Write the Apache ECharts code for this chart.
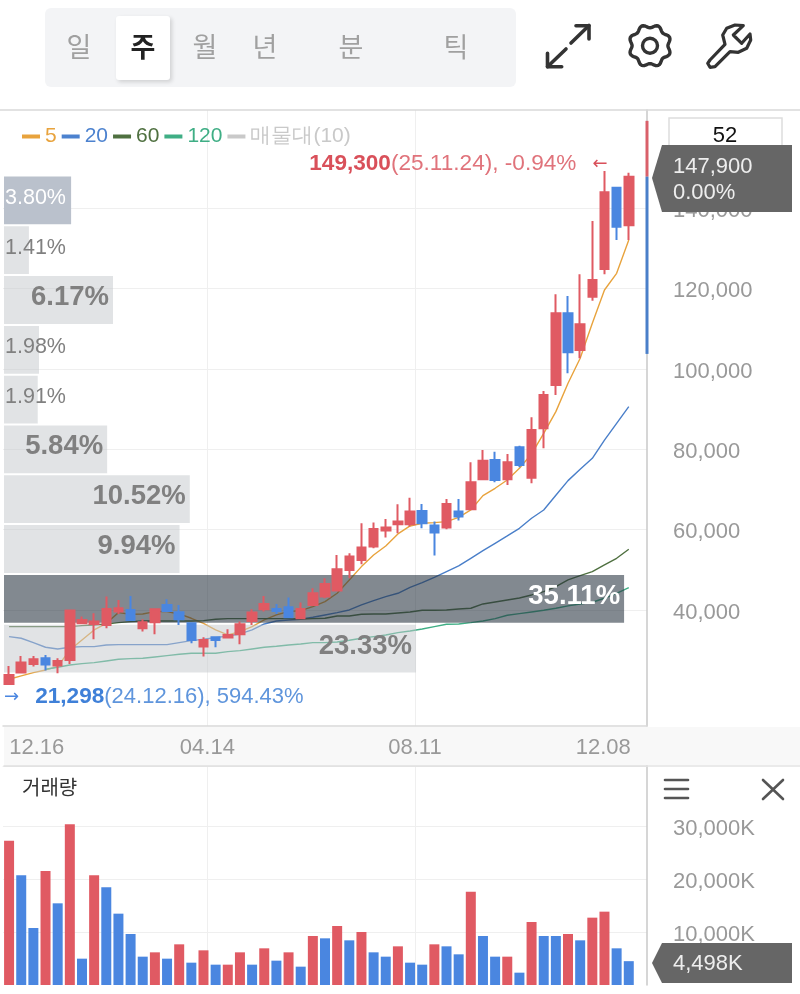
<!DOCTYPE html>
<html><head><meta charset="utf-8">
<style>html,body{margin:0;padding:0;background:#fff}#c{width:800px;height:994px}</style>
<script src="https://cdn.jsdelivr.net/npm/echarts@6/dist/echarts.min.js"></script>
</head><body><div id="c"></div>
<script>
const categories=['24.12.16','24.12.23','24.12.30','25.01.06','25.01.13','25.01.20','25.01.27','25.02.03','25.02.10','25.02.17','25.02.24','25.03.03','25.03.10','25.03.17','25.03.24','25.03.31','25.04.07','25.04.14','25.04.21','25.04.28','25.05.05','25.05.12','25.05.19','25.05.26','25.06.02','25.06.09','25.06.16','25.06.23','25.06.30','25.07.07','25.07.14','25.07.21','25.07.28','25.08.04','25.08.11','25.08.18','25.08.25','25.09.01','25.09.08','25.09.15','25.09.22','25.09.29','25.10.06','25.10.13','25.10.20','25.10.27','25.11.03','25.11.10','25.11.17','25.11.24','25.12.01','25.12.08',''];
const opens=[21574,24396,26554,27965,26139,27550,36680,36514,36265,39585,40000,35435,36929,41245,39419,36680,30870,33194,33111,33941,37261,40166,40249,40664,37925,41245,43320,44814,49960,52450,55770,59754,61331,61331,64651,60999,60501,64485,65066,72536,77350,72536,80504,72951,85235,96025,113870,104740,118020,124909,145161,135782];
const closes=[23815,26886,27716,26388,27301,39834,37510,37095,40249,40415,37510,36929,40166,39751,37676,32530,32530,32530,33775,36431,39336,41494,39751,38174,40249,44150,46474,50126,53280,55521,60169,60501,61995,64485,61580,59256,66394,63240,71789,77184,72370,76769,76105,84820,93535,113870,104159,111131,122170,143999,135450,147900];
const lows=[21298,24230,25890,24894,24230,26554,36514,32696,35435,39004,37344,34605,33941,39585,36265,31700,28380,30704,32945,31451,36265,39585,39004,37925,37676,41000,42905,44648,47885,51371,55355,58011,59090,60750,60335,53529,60086,62244,64900,72370,71789,71125,75524,71540,80255,93535,98930,102665,117024,123581,132130,132130];
const highs=[26056,28546,28546,28795,27965,40000,38340,39170,43320,42490,43486,37676,40415,42656,41245,36846,33194,33360,35186,37095,40166,43486,41494,43071,41826,45395,47885,53695,54110,61580,61746,62659,66311,67971,66394,61995,67639,67639,76769,79840,79425,78844,80919,87974,94531,118601,118186,123581,136861,149300,145161,148896];
const ma5=[22736,23566,24396,25060,25890,30040,32530,35020,36680,39336,38921,39004,39585,39585,39004,37925,36680,35020,33775,34605,35850,37510,38755,39585,39834,40830,42075,44150,47470,50790,53695,55936,58924,60916,61580,61746,61995,63074,64900,68469,70295,72370,75275,78844,83990,89385,96440,102665,111380,119680,123830,132130];
const ma20=[33360,32945,31866,30704,30289,30704,30870,30870,31285,31368,31368,31368,31368,31368,31866,32364,32696,33111,33526,34024,35020,36514,37261,37510,37676,38174,38755,39336,40000,41245,42324,43320,44150,45644,46806,48134,49545,50956,52865,54774,56600,58426,60335,62825,64900,68552,72204,75026,77765,82300,86480,90630];
const ma60=[35850,35850,35850,35850,35850,35850,36099,36265,36514,36846,37095,37261,37261,37261,37261,37261,37344,37676,37842,37842,37842,37842,37842,37842,37759,37842,37925,38506,38506,38921,39004,39004,39253,39502,39917,39917,40000,40249,40415,41494,41992,42490,42988,43735,44565,45810,47470,48549,49545,51205,52865,55106];
const ma120=[null,null,null,25226,25724,26305,26637,26886,27301,27716,27882,27965,28297,28629,28961,29210,29210,29210,29625,29874,30289,30704,30953,31285,31534,31866,31866,32032,32447,32945,33360,33775,34356,34771,35269,35850,36431,36514,36846,37261,37842,38672,39087,39502,39917,40415,41000,41494,41909,42905,44150,45561];
const volumes=[27236,20694,10756,21512,15411,30318,4969,20694,18430,13461,9624,5347,6164,4969,7674,4214,6542,3837,3837,6164,3837,6919,4592,6164,3460,9246,8806,11133,8429,10001,6164,5347,7296,4214,3837,7674,7296,5787,17612,9246,5347,5347,2327,11888,9246,9246,9624,8429,12706,13838,6919,4498];
const volumeUp=[1,0,0,1,0,1,0,1,0,0,0,0,1,0,1,0,1,0,1,1,0,1,0,1,0,1,0,1,0,1,0,0,1,0,0,1,0,0,1,0,0,1,0,1,0,0,1,0,1,1,0,0];
const profilePct=[3.80,1.41,6.17,1.98,1.91,5.84,10.52,9.94,35.11,23.33];
const priceTicks=[40000,60000,80000,100000,120000,140000];
const volumeTicks=[10000,20000,30000];
const dateLabels=['12.16','04.14','08.11','12.08'];
const dateLabelPos=[2.78,16.82,33.9,49.4];
const dateLinePos=[16.83,33.9];
const tabLabels=['일','주','월','년','분','틱'];
const tabX=[79,143,205,265,351,456];
const legendNames=['5','20','60','120','매물대(10)'];
const legendColors=['#e8a33d','#4c82cf','#4f7040','#3fae85','#c9c9c9'];

const RED='#e05a63',BLUE='#4a86e0',SANS='"Liberation Sans",Arial,sans-serif',KR='"Noto Sans CJK KR",sans-serif';
const candle=opens.map((o,i)=>[o,closes[i],lows[i],highs[i]]);
const grey='#999';
const axisRich={a:{color:grey,fontSize:22,fontFamily:SANS,padding:[5,0,0,0]}};
const bandX={type:'value',min:0,max:53,gridIndex:0,position:'bottom',
  axisLine:{show:true,onZero:false,lineStyle:{color:'#d9d9d9',width:1.5}},axisTick:{show:false,customValues:dateLinePos},
  splitLine:{show:true,lineStyle:{color:'#efefef',width:1}},
  axisLabel:{show:true,customValues:dateLabelPos,color:grey,fontSize:22,fontFamily:SANS,margin:11,hideOverlap:false,showMinLabel:true,showMaxLabel:true,
    formatter:v=>{const i=dateLabelPos.findIndex(p=>Math.abs(p-v)<1e-6);return i>=0?dateLabels[i]:'';}}};
const cat=g=>({type:'category',data:categories,gridIndex:g,boundaryGap:true,show:false});
function gear(cx,cy){const p=[];for(let k=0;k<96;k++){const a=k/96*2*Math.PI;const r=19.6-1.7*Math.cos(8*a);p.push([cx+r*Math.cos(a),cy+r*Math.sin(a)]);}return p;}
const line=(x1,y1,x2,y2,c,w,z)=>({type:'line',shape:{x1,y1,x2,y2},style:{stroke:c,lineWidth:w,lineCap:'round'},z:z||50,silent:true});
const poly=(pts,c,w)=>({type:'polyline',shape:{points:pts},style:{stroke:c,lineWidth:w,fill:null,lineJoin:'round',lineCap:'round'},z:50,silent:true});
const tag=(y0,ym,y1)=>({type:'polygon',shape:{points:[[652,ym],[662,y0],[792,y0],[792,y1],[662,y1]]},style:{fill:'#666666'},z:60,silent:true});
const txt=(x,y,t,o)=>({type:'text',x,y,z:70,silent:true,style:Object.assign({text:t,font:'22px '+SANS,fill:'#eee',textAlign:'left',textVerticalAlign:'middle'},o||{})});

const graphics=[
 {type:'rect',shape:{x:4,y:727,width:796,height:38},style:{fill:'#f8f8f8'},z:-1,silent:true},
 line(0,110,800,110,'#d9d9d9',1.5),
 line(647,766,800,766,'#e3e3e3',1.5),
 line(4,766,647,766,'#dedede',1.5),
 {type:'rect',shape:{x:45,y:8,width:471,height:79,r:6},style:{fill:'#f3f4f6'},z:40,silent:true},
 {type:'rect',shape:{x:116,y:16,width:54,height:64,r:3},style:{fill:'#fff',shadowBlur:4,shadowColor:'rgba(0,0,0,.15)',shadowOffsetX:2,shadowOffsetY:2},z:41,silent:true},
 ...tabLabels.map((t,i)=>txt(tabX[i],47,t,{font:(i===1?'bold ':'')+'27px '+KR,fill:i===1?'#222':'#a0a0a0',textAlign:'center'})),
 line(571,43,589,25.5,'#333',3.6),poly([[576,25.7],[589,25.7],[589,39]],'#333',3.6),
 line(566,49,547.5,66.7,'#333',3.6),poly([[547.5,53.3],[547.5,66.7],[561.7,66.7]],'#333',3.6),
 {type:'polygon',shape:{points:gear(650,45.7)},style:{stroke:'#333',lineWidth:3.4,fill:null,lineJoin:'round'},z:50,silent:true},
 {type:'circle',shape:{cx:650,cy:45.7,r:7.5},style:{stroke:'#333',lineWidth:3.4,fill:null},z:50,silent:true},
 {type:'polygon',shape:{points:[[710,60],[725,44.3],[722.7,35],[726.7,28.3],[735,25],[743.3,25.7],[733.3,35],[741.7,43.3],[750,34],[750.7,40],[746.7,48.3],[738.3,52.3],[730,51.7],[715,66.7],[710,67.3],[707.7,63.3]]},style:{stroke:'#333',lineWidth:3.2,fill:null,lineJoin:'round'},z:50,silent:true},
 {type:'rect',shape:{x:669,y:118,width:113,height:40},style:{fill:'#fff',stroke:'#ddd',lineWidth:1.5},z:40,silent:true},
 txt(725,136,'52',{fill:'#111',textAlign:'center'}),
 tag(145,178,212),
 txt(673,167,'147,900'),txt(673,193,'0.00%'),
 tag(943,963,983),
 txt(673,964,'4,498K'),
 txt(22,787,'거래량',{font:'20px '+KR,fill:'#333'}),
 line(665,780,688,780,'#555',2.6),line(665,789,688,789,'#555',2.6),line(665,798,688,798,'#555',2.6),
 line(763,780,783,799,'#555',2.6),line(783,780,763,799,'#555',2.6)
];

const option={animation:false,backgroundColor:'#fff',
 legend:{left:17,top:121,itemWidth:18,itemHeight:4,itemGap:5,selectedMode:false,
  data:legendNames.map((nm,i)=>({name:nm,icon:'rect',itemStyle:{color:legendColors[i]},textStyle:{color:legendColors[i],fontSize:21,fontFamily:SANS}}))},
 grid:[{left:3,top:110,width:644,height:616},{left:3,top:766,width:644,height:219},{left:4,top:175.5,width:635.8,height:498}],
 xAxis:[cat(0),bandX,cat(1),
  {type:'value',min:0,max:53,gridIndex:1,axisLine:{show:true,onZero:false,lineStyle:{color:'#eeeeee'}},axisTick:{show:false,customValues:dateLinePos},axisLabel:{show:false,customValues:dateLinePos},splitLine:{show:true,lineStyle:{color:'#efefef'}}},
  {type:'value',gridIndex:2,min:0,max:36,show:false}],
 yAxis:[
  {type:'value',gridIndex:0,position:'right',min:11100,max:164500,
   axisLine:{show:true,onZero:false,lineStyle:{color:'#c8c8c8',width:1.5}},axisTick:{show:false,customValues:priceTicks},
   splitLine:{show:true,lineStyle:{color:'#efefef',width:1.2}},
   axisLabel:{customValues:priceTicks,color:grey,fontSize:22,fontFamily:SANS,margin:26,align:'left',rich:axisRich,formatter:v=>'{a|'+v.toLocaleString('en-US')+'}'}},
  {type:'value',gridIndex:1,position:'right',min:0,max:41320,
   axisLine:{show:true,onZero:false,lineStyle:{color:'#c8c8c8',width:1.5}},axisTick:{show:false,customValues:volumeTicks},
   splitLine:{show:true,lineStyle:{color:'#efefef',width:1.2}},
   axisLabel:{customValues:volumeTicks,color:grey,fontSize:22,fontFamily:SANS,margin:26,align:'left',rich:axisRich,formatter:v=>'{a|'+v.toLocaleString('en-US')+'K}'}},
  {type:'category',gridIndex:2,inverse:true,show:false,data:profilePct.map(String)}],
 graphic:{elements:graphics},
 series:[
  ...[['5',ma5,'#e8a33d'],['20',ma20,'#4a7fc9'],['60',ma60,'#4f7040'],['120',ma120,'#3fae85']].map(([nm,d,c])=>({name:nm,type:'line',data:d,xAxisIndex:0,yAxisIndex:0,showSymbol:false,symbol:'none',z:2,silent:true,lineStyle:{color:c,width:1.4},itemStyle:{color:c}})),
  {name:'매물대(10)',type:'bar',xAxisIndex:4,yAxisIndex:2,z:3,barWidth:47.8,silent:true,itemStyle:{color:'#c9c9c9'},
   data:profilePct.map((v,i)=>{
    const big=v>=5, top=i===0, dark=v===35.11;
    return {value:v,itemStyle:{color:top?'#bac1cc':dark?'rgba(40,52,64,.58)':'rgba(196,199,204,.5)'},
     label:{show:true,position:big?'insideRight':'insideLeft',distance:big?4:1,offset:[0,-2.5],formatter:v.toFixed(2)+'%',
      color:(top||dark)?'#fff':'#808080',fontFamily:SANS,fontSize:big?27.5:21.5,fontWeight:big?'bold':'normal'}};
   })},
  {name:'candle',type:'candlestick',xAxisIndex:0,yAxisIndex:0,z:5,barWidth:9,silent:true,data:candle,
   itemStyle:{color:RED,color0:BLUE,borderColor:RED,borderColor0:BLUE,borderWidth:2},
   markPoint:{silent:true,symbol:'circle',symbolSize:0.01,data:[
    {coord:[49,149300],label:{show:true,position:'left',offset:[8,-7],formatter:'{b|149,300}{n|(25.11.24), -0.94%}{a|←}',
      rich:{b:{fontFamily:SANS,fontSize:22.6,fontWeight:'bold',color:'#d9505a'},n:{fontFamily:SANS,fontSize:22.6,color:'#e0737b'},a:{fontFamily:'"DejaVu Sans"',fontSize:18,color:'#d9505a',padding:[0,0,0,16]}}}},
    {coord:[0,21298],label:{show:true,position:'right',offset:[-10,12],formatter:'{a|→}{b|21,298}{n|(24.12.16), 594.43%}',
      rich:{a:{fontFamily:'"DejaVu Sans"',fontSize:18,color:'#4a86e0',padding:[0,16,0,0]},b:{fontFamily:SANS,fontSize:22.6,fontWeight:'bold',color:'#3f80d8'},n:{fontFamily:SANS,fontSize:22,color:'#5f95dc'}}}}
   ]}},
  {name:'rangeUp',type:'line',xAxisIndex:1,yAxisIndex:0,z:6,clip:false,symbol:'none',silent:true,lineStyle:{color:'#d9606a',width:3},data:[[53,161800],[53,147900]]},
  {name:'rangeDown',type:'line',xAxisIndex:1,yAxisIndex:0,z:6,clip:false,symbol:'none',silent:true,lineStyle:{color:'#4a7fc9',width:3},data:[[53,147900],[53,103760]]},
  {name:'volume',type:'bar',xAxisIndex:2,yAxisIndex:1,z:4,barWidth:10,silent:true,
   data:volumes.map((v,i)=>({value:v,itemStyle:{color:volumeUp[i]?RED:BLUE}}))},
  {name:'volGuide',type:'line',xAxisIndex:3,yAxisIndex:1,data:[],silent:true}
 ]};
const chart=echarts.init(document.getElementById('c'),null,{renderer:'canvas'});
chart.setOption(option);
</script></body></html>
